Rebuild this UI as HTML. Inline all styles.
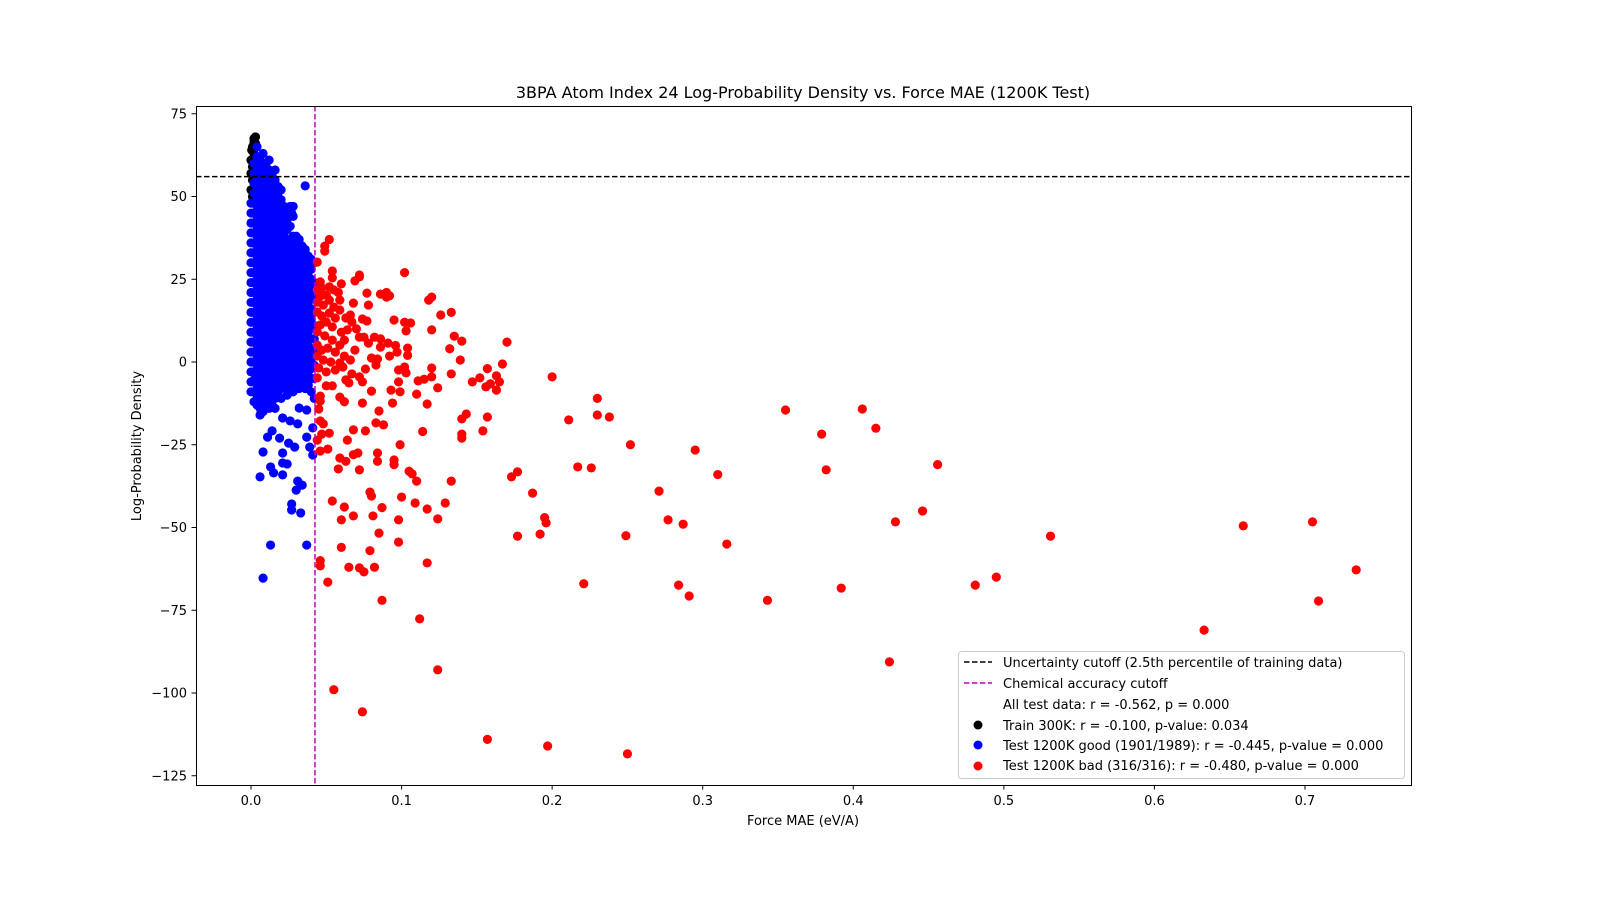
<!DOCTYPE html>
<html><head><meta charset="utf-8"><style>
body{margin:0;background:#fff;}
svg{display:block;font-family:"DejaVu Sans","Liberation Sans",sans-serif;}
</style></head><body>
<svg id="chart" width="1600" height="900" xmlns="http://www.w3.org/2000/svg">
<rect width="1600" height="900" fill="#fff"/>
<text x="803" y="98" text-anchor="middle" font-size="16">3BPA Atom Index 24 Log-Probability Density vs. Force MAE (1200K Test)</text>
<text x="803" y="825" text-anchor="middle" font-size="13">Force MAE (eV/A)</text>
<text x="141" y="446" text-anchor="middle" font-size="13" transform="rotate(-90 141 446)">Log-Probability Density</text>
<g id="ticks"></g>
<g id="marks" clip-path="url(#clip)"></g>
<defs><clipPath id="clip"><rect x="196" y="106" width="1215" height="679"/></clipPath></defs>
<rect x="196.5" y="106.5" width="1215" height="679" fill="none" stroke="#000" stroke-width="1"/>
<g id="legend">
<rect x="958.5" y="651.5" width="446" height="127" rx="3" fill="#fff" fill-opacity="0.85" stroke="#ccc"/>
<line x1="964" y1="662" x2="992" y2="662" stroke="#000" stroke-width="1.5" stroke-dasharray="5.5,2.5"/>
<text x="1003" y="667" font-size="13">Uncertainty cutoff (2.5th percentile of training data)</text>
<line x1="964" y1="683" x2="992" y2="683" stroke="#bf00bf" stroke-width="1.5" stroke-dasharray="5.5,2.5"/>
<text x="1003" y="688" font-size="13">Chemical accuracy cutoff</text>
<text x="1003" y="709" font-size="13">All test data: r = -0.562, p = 0.000</text>
<circle cx="978" cy="725" r="4.5" fill="#000"/>
<text x="1003" y="730" font-size="13">Train 300K: r = -0.100, p-value: 0.034</text>
<circle cx="978" cy="745" r="4.5" fill="#0000ff"/>
<text x="1003" y="750" font-size="13">Test 1200K good (1901/1989): r = -0.445, p-value = 0.000</text>
<circle cx="978" cy="766" r="4.5" fill="#ff0000"/>
<text x="1003" y="770" font-size="13">Test 1200K bad (316/316): r = -0.480, p-value = 0.000</text>
</g>
</svg>
<script>
const xTicks = [0.0,0.1,0.2,0.3,0.4,0.5,0.6,0.7];
const xTickLabels = ["0.0","0.1","0.2","0.3","0.4","0.5","0.6","0.7"];
const yTicks = [75,50,25,0,-25,-50,-75,-100,-125];
const yTickLabels = ["75","50","25","0","\u221225","\u221250","\u221275","\u2212100","\u2212125"];
const uncertaintyCutoff = 56;
const chemCutoff = 0.0425;
const trainX = [0.002,0.003,0.001,0.002,0.0,0.001,0.0,0.001,0.0,0.001,0.003,0.002,0.0005];
const trainY = [67.5,68,65,63,61,59,57,55,52,50,66,66.5,64];
const goodColX = [0.0,0.004,0.008,0.012,0.016,0.020,0.024,0.028,0.032,0.036,0.040,0.042];
const goodColY = [
 [48,45,42,39,36,33,30,27,24,21,18,15,12,9,6,3,0,-3,-6,-9],
 [65,62,59,56,53,50,47,44,41,38,35,32,29,26,23,20,17,14,11,8,5,2,-1,-4,-7,-10,-13],
 [63,60,57,54,51,48,45,42,39,36,33,30,27,24,21,18,15,12,9,6,3,0,-3,-6,-9,-12,-15],
 [61,58,55,52,49,46,43,40,37,34,31,28,25,22,19,16,13,10,7,4,1,-2,-5,-8,-11,-14],
 [58,55,52,49,46,43,40,37,34,31,28,25,22,19,16,13,10,7,4,1,-2,-5,-8,-11,-14],
 [52,49,46,43,40,37,34,31,28,25,22,19,16,13,10,7,4,1,-2,-5,-8,-11],
 [46,43,40,37,34,31,28,25,22,19,16,13,10,7,4,1,-2,-5,-8,-10],
 [47,44,38,36,33,30,27,24,21,18,15,12,9,6,3,0,-3,-6,-9],
 [37,34,31,28,25,22,19,16,13,10,7,4,1,-2,-5,-8],
 [34,31,28,25,22,19,16,13,10,7,4,1,-2,-5,-8],
 [31,28,25,22,19,16,13,10,7,4,1,-2,-5,-9],
 [30,24,20,15,11,7,3,-1,-5,-11]
];
const goodColX2 = [0.002,0.006,0.010,0.014,0.018,0.022,0.026,0.030,0.034,0.038];
const goodColY2 = [
 [60,57,54,51,48,45,42,39,36,33,30,27,24,21,18,15,12,9,6,3,0,-3,-6,-9,-12],
 [61,58,55,52,49,46,43,40,37,34,31,28,25,22,19,16,13,10,7,4,1,-2,-5,-8,-11,-14],
 [59,56,53,50,47,44,41,38,35,32,29,26,23,20,17,14,11,8,5,2,-1,-4,-7,-10,-13],
 [56,53,50,47,44,41,38,35,32,29,26,23,20,17,14,11,8,5,2,-1,-4,-7,-10,-13],
 [53,50,47,44,41,38,35,32,29,26,23,20,17,14,11,8,5,2,-1,-4,-7,-10],
 [47,44,41,38,35,32,29,26,23,20,17,14,11,8,5,2,-1,-4,-7],
 [44,41,35,32,29,26,23,20,17,14,11,8,5,2,-1,-4,-7],
 [38,35,32,29,26,23,20,17,14,11,8,5,2,-1,-4,-7],
 [35,32,29,26,23,20,17,14,11,8,5,2,-1,-4,-7],
 [32,29,26,23,20,17,14,11,8,5,2,-1,-4,-7]
];
const goodOutX = [0.008,0.013,0.037,0.036,0.006,0.008,0.013,0.015,0.021,0.027,0.027,0.031,0.034,0.033,0.030,0.021,0.024,0.025,0.021,0.019,0.011,0.014,0.031,0.037,0.039,0.041,0.032,0.037,0.041,0.026,0.021,0.029,0.006,0.003,0.026,0.027];
const goodOutY = [-65.3,-55.3,-55.3,53.2,-34.7,-27.2,-31.7,-33.5,-34.1,-44.7,-42.9,-36,-37.2,-45.6,-38.7,-30.5,-30.8,-24.5,-27.5,-23,-22.7,-20.8,-18.7,-22.7,-25.7,-28.1,-13.9,-14.5,-19.9,-17.8,-16.9,-25.7,-16,-4.8,47,45];
const badX = [0.200,0.211,0.230,0.230,0.238,0.252,0.217,0.226,0.295,0.310,0.271,0.277,0.287,0.316,0.249,0.221,0.284,0.291,0.343,0.355,0.379,0.382,0.406,0.415,0.392,0.428,0.446,0.456,0.424,0.481,0.495,0.531,0.633,0.659,0.705,0.709,0.734,0.157,0.197,0.250,0.124,0.055,0.074,0.112,0.087,0.051,0.046,0.046,0.065,0.072,0.075,0.082,0.060,0.079,0.085,0.098,0.117,0.054,0.062,0.068,0.060,0.079,0.080,0.081,0.087,0.098,0.100,0.109,0.117,0.124,0.129,0.133,0.110,0.107,0.105,0.095,0.095,0.099,0.084,0.084,0.071,0.068,0.059,0.058,0.063,0.072,0.064,0.068,0.076,0.083,0.088,0.085,0.114,0.140,0.140,0.154,0.157,0.140,0.143,0.173,0.177,0.187,0.177,0.195,0.196,0.192,0.165,0.167,0.170,0.157,0.163,0.163,0.159,0.156,0.147,0.152,0.139,0.140,0.135,0.133,0.126,0.120,0.118,0.120,0.132,0.133,0.120,0.120,0.124,0.117,0.115,0.111,0.103,0.102,0.098,0.098,0.099,0.093,0.110,0.094,0.102,0.106,0.102,0.095,0.096,0.097,0.104,0.104,0.103,0.091,0.092,0.086,0.086,0.090,0.090,0.086,0.092,0.077,0.078,0.072,0.069,0.068,0.072,0.060,0.058,0.054,0.054,0.052,0.052,0.049,0.049,0.044,0.059,0.066,0.074,0.077,0.070,0.064,0.060,0.072,0.075,0.082,0.078,0.080,0.084,0.083,0.076,0.072,0.067,0.063,0.065,0.074,0.080,0.074,0.062,0.059,0.054,0.050,0.046,0.046,0.045,0.046,0.048,0.047,0.052,0.044,0.046,0.051,0.046,0.047,0.050,0.046,0.044,0.048,0.052,0.055,0.044,0.047,0.052,0.056,0.046,0.050,0.054,0.044,0.049,0.054,0.044,0.047,0.051,0.056,0.044,0.048,0.053,0.045,0.050,0.056,0.044,0.059,0.062,0.059,0.066,0.069,0.062,0.067,0.063,0.059,0.055,0.044,0.061];
const badY = [-4.5,-17.5,-16,-11,-16.6,-25,-31.7,-32,-26.6,-34,-39,-47.7,-49,-55,-52.5,-67,-67.4,-70.7,-72,-14.5,-21.8,-32.6,-14.2,-20,-68.3,-48.3,-45,-31,-90.6,-67.4,-65,-52.6,-81,-49.5,-48.3,-72.2,-62.8,-114,-116,-118.4,-93,-99,-105.7,-77.6,-72,-66.5,-60,-61.6,-62,-62.2,-63.4,-62,-56,-57,-51.7,-54.4,-60.7,-42,-43.8,-46.5,-47.7,-39.3,-40.5,-46.5,-44,-47.7,-40.8,-42.6,-44.4,-47.4,-42.6,-36,-36,-33.8,-33,-29.6,-31,-25,-27.5,-30,-27.5,-28,-29,-32.3,-30,-32.6,-23.6,-20.5,-20.8,-18.4,-19,-14.8,-21,-21.8,-23,-20.8,-16.6,-17.2,-15.7,-34.7,-33.2,-39.6,-52.6,-47,-48.6,-52,-6,-0.6,6,-2,-4.2,-8.5,-6.6,-7.5,-6,-4.8,0.6,6.3,7.8,15,14.2,19.6,18.7,9.7,4,-3.6,-1.8,-4.5,-7.8,-12.7,-5.2,-5.7,-3.3,-1.5,-2.4,-6,-9,-8.5,-9.7,-12.4,27,11.8,12,12.7,5,3,4.2,2,9.4,5.7,1.8,4.5,7,21,19.6,20.5,20,20.8,17.2,25.7,24.5,17.8,26.3,23.6,21,27.5,25.4,22.7,37,35,33.5,30.2,18.7,14.2,13,12.4,10,9.7,9,7.5,7.5,7.5,5.7,1.2,0.9,-0.9,-2.1,-4.5,-3.6,-5.4,-6.3,-6,-8.8,-12.4,-12,-10.6,-7.2,-7.2,-11.8,-10.3,-14.2,-17.8,-18.7,-21.8,-21.5,-23.6,-26.9,-26.3,24.2,22.4,20.2,19.9,18.1,17.2,18.7,16.6,15.1,13.9,14.8,13.3,11.2,12.1,10.6,9.1,7.9,6.6,5.1,3.6,4.2,3.0,1.8,0.6,0,-1.8,-3.0,-2.4,-4.8,5.1,1.8,-0.3,0.6,3.6,6.6,12.1,13.3,15.7,21.8,21.8,-1.5];

const NS = "http://www.w3.org/2000/svg";
const X0 = 251, XS = 1505.7, Y0 = 362, YS = 3.31;
function sx(v){ return X0 + v*XS; }
function sy(v){ return Y0 - v*YS; }
const ticks = document.getElementById('ticks');
const marks = document.getElementById('marks');
function mk(tag, attrs, parent){ const e=document.createElementNS(NS,tag); for(const k in attrs) e.setAttribute(k,attrs[k]); parent.appendChild(e); return e; }

xTicks.forEach((v,i)=>{
  const x=sx(v);
  const t=mk('line',{x1:x,x2:x,y1:785,y2:789.5,stroke:'#000'},ticks);
  
  
  const l=mk('text',{x:x,y:805,'text-anchor':'middle','font-size':13},ticks);
  l.textContent=xTickLabels[i];
  
  
});
yTicks.forEach((v,i)=>{
  const y=sy(v);
  const t=mk('line',{x1:191.5,x2:196,y1:y,y2:y,stroke:'#000'},ticks);
  
  
  const l=mk('text',{x:187,y:y+4.5,'text-anchor':'end','font-size':13},ticks);
  l.textContent=yTickLabels[i];
  
  
});
function dot(x,y,c,name){
  const d=mk('circle',{cx:sx(x),cy:sy(y),r:4.6,fill:c},marks);
  
  
}
trainX.forEach((x,i)=>dot(x,trainY[i],'#000','train-point'));
goodColX.forEach((x,i)=>goodColY[i].forEach(y=>dot(x,y,'#0000ff','good-point')));
goodColX2.forEach((x,i)=>goodColY2[i].forEach(y=>dot(x,y,'#0000ff','good-point')));
goodOutX.forEach((x,i)=>dot(x,goodOutY[i],'#0000ff','good-point'));
badX.forEach((x,i)=>dot(x,badY[i],'#ff0000','bad-point'));
const h=mk('line',{x1:196,x2:1411,y1:sy(uncertaintyCutoff),y2:sy(uncertaintyCutoff),stroke:'#000','stroke-width':1.5,'stroke-dasharray':'5.5,2.5'},marks);


const v=mk('line',{x1:sx(chemCutoff),x2:sx(chemCutoff),y1:106,y2:785,stroke:'#bf00bf','stroke-width':1.5,'stroke-dasharray':'5.5,2.5'},marks);


</script>
</body></html>
